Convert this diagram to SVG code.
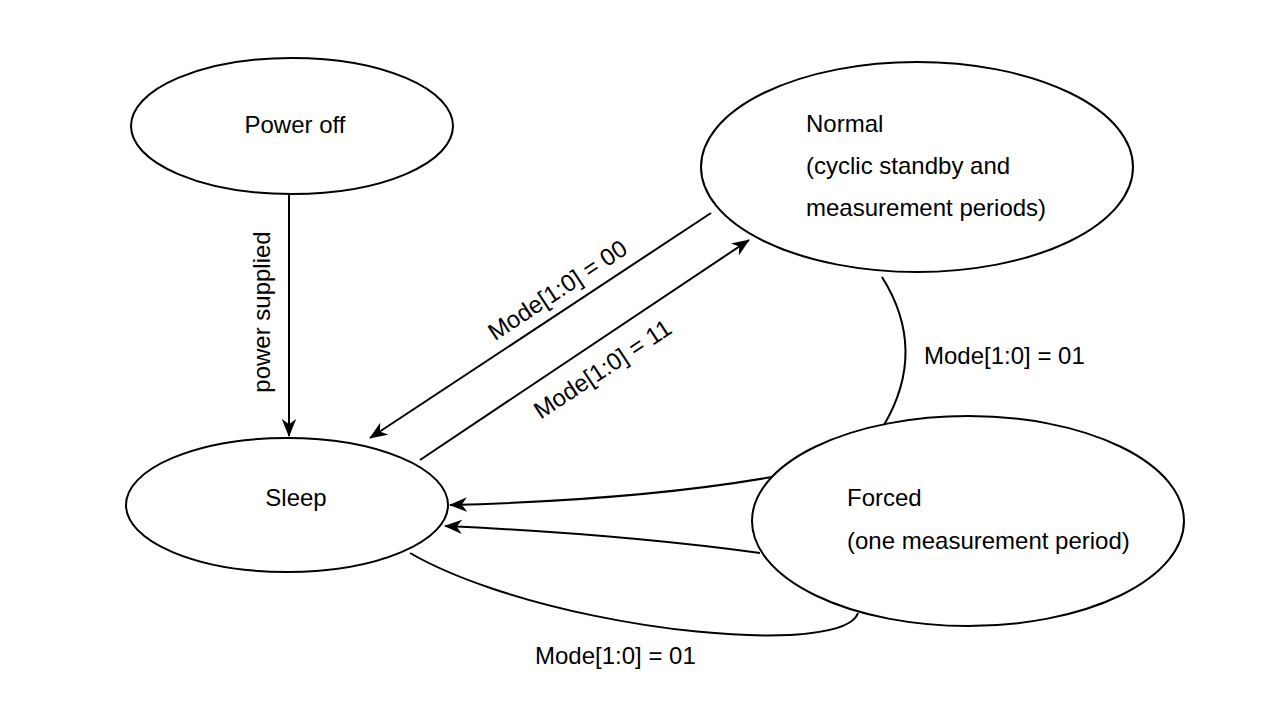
<svg xmlns="http://www.w3.org/2000/svg" width="1280" height="720" viewBox="0 0 1280 720">
<defs>
<style>
.node{fill:#fff;stroke:#000;stroke-width:2}
.edge{fill:none;stroke:#000;stroke-width:2}
text{font-family:"Liberation Sans",Arial,sans-serif;font-size:24px;fill:#000}
</style>
<marker id="arr" viewBox="0 0 20 16" refX="19" refY="8" markerWidth="18" markerHeight="15" markerUnits="userSpaceOnUse" orient="auto">
<path d="M0,0 L20,8 L0,16 L6,8 Z" fill="#000"/>
</marker>
</defs>
<rect width="1280" height="720" fill="#fff"/>
<g id="power-off"><ellipse class="node" cx="292" cy="126" rx="161" ry="68"/><text x="295" y="133" text-anchor="middle">Power off</text></g>
<g id="normal"><ellipse class="node" cx="917" cy="167" rx="216" ry="105"/><text x="806" y="132">Normal</text><text x="806" y="174">(cyclic standby and</text><text x="806" y="216">measurement periods)</text></g>
<g id="sleep"><ellipse class="node" cx="287" cy="505" rx="161" ry="67"/><text x="296" y="506" text-anchor="middle">Sleep</text></g>
<g id="forced"><ellipse class="node" cx="968" cy="521" rx="216" ry="105"/><text x="847" y="506">Forced</text><text x="847" y="549">(one measurement period)</text></g>
<g id="connectors">
<line class="edge" x1="289" y1="194" x2="289" y2="436" marker-end="url(#arr)"/>
<line class="edge" x1="711" y1="213" x2="370" y2="438" marker-end="url(#arr)"/>
<line class="edge" x1="420" y1="460" x2="749" y2="240" marker-end="url(#arr)"/>
<path class="edge" d="M882,277 Q928,350 884,425"/>
<path class="edge" d="M772,477 Q640,500 450,505" marker-end="url(#arr)"/>
<path class="edge" d="M760,553 Q620,534 445,526" marker-end="url(#arr)"/>
<path class="edge" d="M410,553 C500,605 680,640 790,635 C840,632 855,622 858,613"/>
<text transform="translate(270,312) rotate(-90)" text-anchor="middle">power supplied</text>
<text transform="translate(562,297) rotate(-33.4)" text-anchor="middle">Mode[1:0] = 00</text>
<text transform="translate(607,376) rotate(-33.4)" text-anchor="middle">Mode[1:0] = 11</text>
<text x="924" y="364">Mode[1:0] = 01</text>
<text x="535" y="664">Mode[1:0] = 01</text>
</g>
</svg>
